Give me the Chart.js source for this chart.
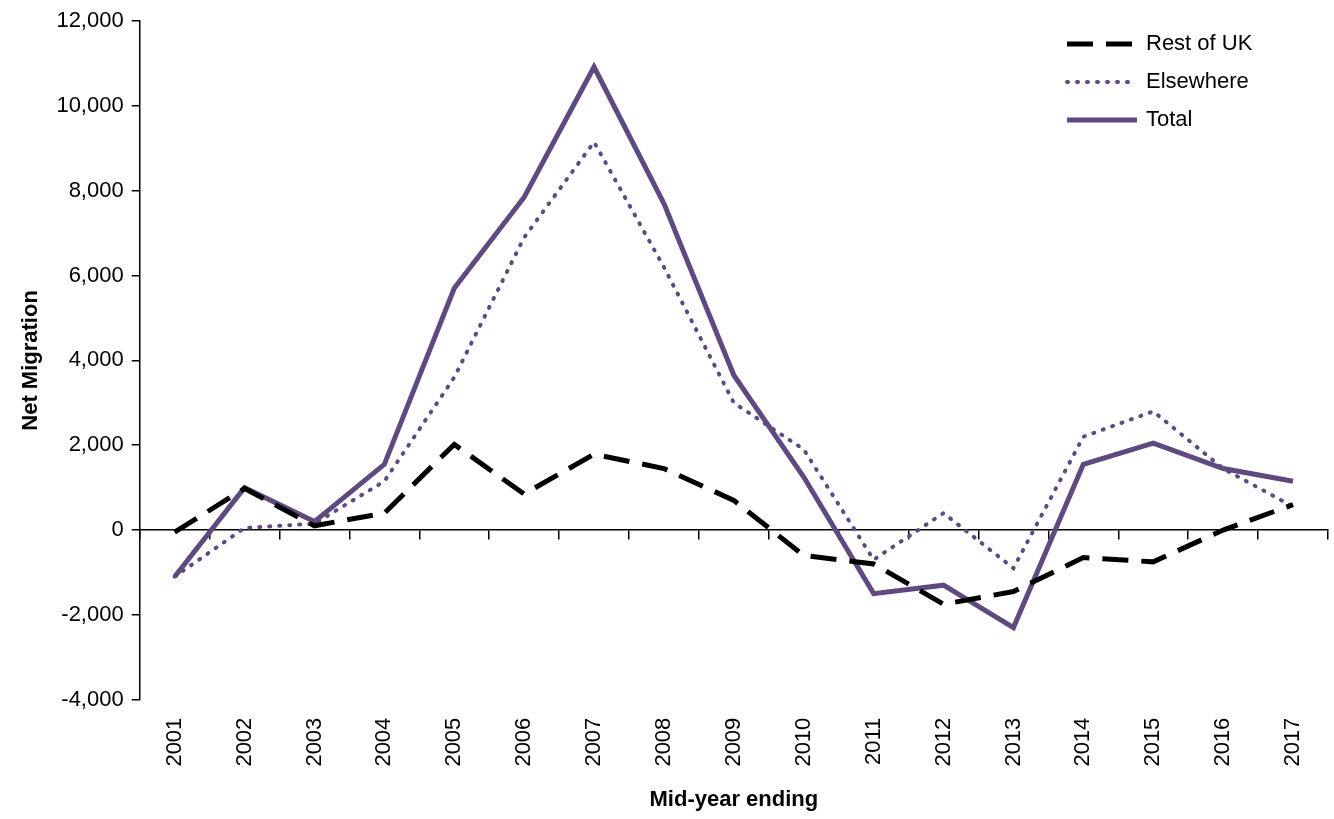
<!DOCTYPE html>
<html>
<head>
<meta charset="utf-8">
<script src="https://cdn.jsdelivr.net/npm/chart.js@4"></script>
<style>
  html, body { margin: 0; padding: 0; background: #fff; overflow: hidden; }
</style>
</head>
<body>
<canvas id="migChart" width="1334" height="819"></canvas>
<script>
const years = ['2001','2002','2003','2004','2005','2006','2007','2008','2009','2010','2011','2012','2013','2014','2015','2016','2017'];
const restOfUK = [-50, 980, 100, 400, 2020, 850, 1790, 1450, 700, -600, -800, -1750, -1450, -650, -750, 0, 600];
const elsewhere = [-1100, 50, 150, 1150, 3600, 6900, 9150, 6200, 3000, 1900, -700, 400, -900, 2200, 2800, 1450, 550];
const total = [-1100, 1000, 200, 1550, 5700, 7850, 10920, 7700, 3650, 1250, -1500, -1300, -2300, 1550, 2050, 1450, 1150];

const purple = '#5f4a80';
const font = 'Liberation Sans, Arial, sans-serif';

// legend drawn by hand, top right inside the plot
const legendPlugin = {
    id: 'cornerLegend',
    afterDraw(chart) {
        const ctx = chart.ctx;
        ctx.save();
        chart.data.datasets.forEach((ds, i) => {
            const y = 44 + i * 38;
            ctx.beginPath();
            ctx.setLineDash(ds.borderDash || []);
            ctx.lineCap = ds.borderCapStyle || 'butt';
            ctx.lineWidth = ds.borderWidth;
            ctx.strokeStyle = ds.borderColor;
            ctx.moveTo(1067, y);
            ctx.lineTo(1137, y);
            ctx.stroke();
            ctx.setLineDash([]);
            ctx.fillStyle = '#000';
            ctx.font = '22px ' + font;
            ctx.textBaseline = 'middle';
            ctx.fillText(ds.label, 1146, y);
        });
        ctx.restore();
    }
};

new Chart(document.getElementById('migChart'), {
    type: 'line',
    data: {
        labels: years,
        datasets: [
            { label: 'Rest of UK', data: restOfUK, borderColor: '#000', borderWidth: 5, borderDash: [26, 13], pointRadius: 0, tension: 0 },
            { label: 'Elsewhere', data: elsewhere, borderColor: purple, borderWidth: 4, borderDash: [1, 9], borderCapStyle: 'round', pointRadius: 0, tension: 0 },
            { label: 'Total', data: total, borderColor: purple, borderWidth: 5, pointRadius: 0, tension: 0 }
        ]
    },
    options: {
        responsive: false,
        animation: false,
        devicePixelRatio: 1,
        layout: { padding: { top: 8, right: 6, left: 14, bottom: 2 } },
        plugins: { legend: { display: false }, tooltip: { enabled: false } },
        scales: {
            x: {
                offset: true,
                grid: { display: false },
                border: { display: false },
                ticks: { color: '#000', font: { size: 22, family: font }, maxRotation: 90, minRotation: 90, padding: 10, autoSkip: false },
                title: { display: true, text: 'Mid-year ending', color: '#000', font: { size: 22, weight: 'bold', family: font }, padding: { top: 10 } }
            },
            x2: {
                type: 'category',
                labels: years,
                position: { y: 0 },
                offset: true,
                grid: { drawOnChartArea: false, offset: true, tickLength: 9, color: '#000', lineWidth: 1.5 },
                border: { color: '#000', width: 1.5 },
                ticks: { display: false }
            },
            y: {
                min: -4000, max: 12000,
                ticks: { stepSize: 2000, color: '#000', font: { size: 22, family: font }, padding: 8,
                    callback: v => v.toLocaleString('en-GB') },
                grid: { drawOnChartArea: false, tickLength: 8, color: '#000', lineWidth: 1.5 },
                border: { color: '#000', width: 1.5 },
                title: { display: true, text: 'Net Migration', color: '#000', font: { size: 22, weight: 'bold', family: font } }
            }
        }
    },
    plugins: [legendPlugin]
});
</script>
</body>
</html>
